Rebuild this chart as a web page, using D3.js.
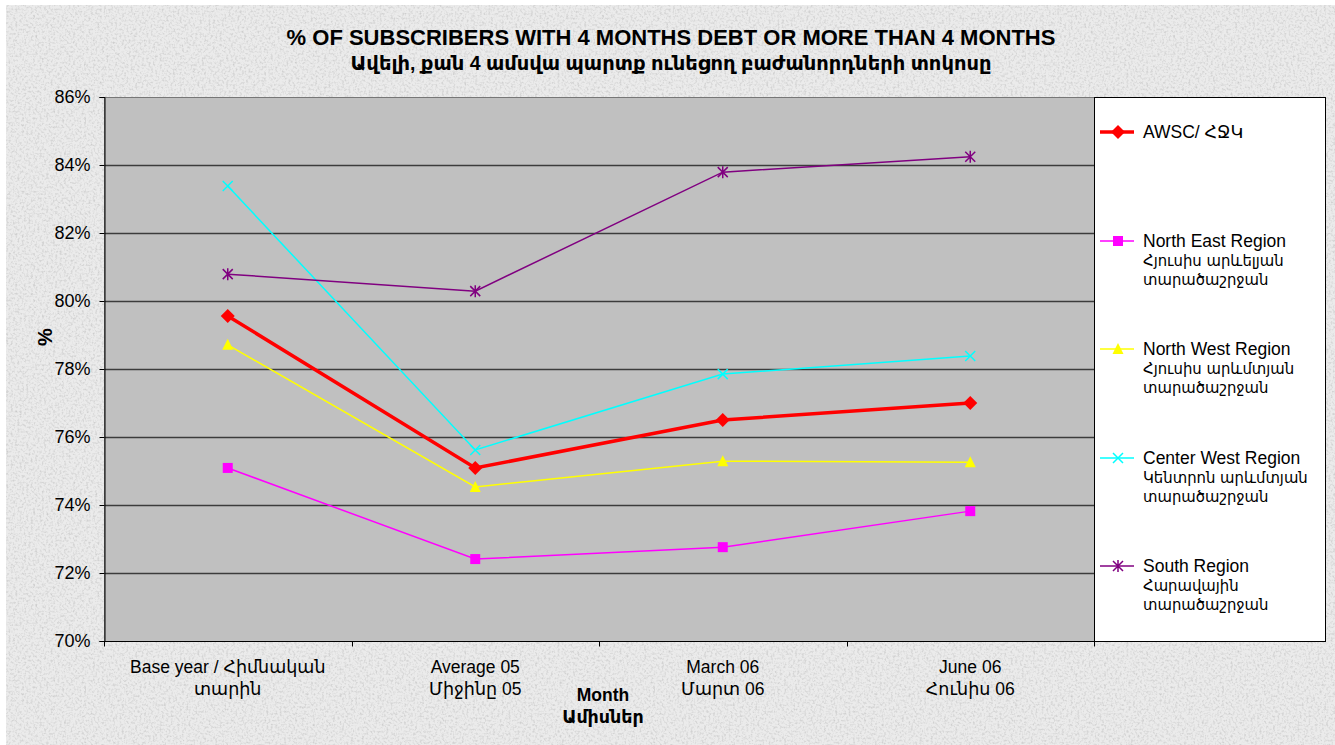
<!DOCTYPE html>
<html>
<head>
<meta charset="utf-8">
<script src="https://d3js.org/d3.v7.min.js"></script>
<style>
  body { margin: 0; background: #fff; }
  text { font-family: Arial, "Liberation Sans", "DejaVu Sans", sans-serif; }
</style>
</head>
<body>
<div id="chart"></div>
<script>
// Categories (two-line labels)
var categories = ["Base year / Հիմնական|տարին", "Average 05|Միջինը 05", "March 06|Մարտ 06", "June 06|Հունիս 06"];

// Series values (%)
var awsc       = [79.56, 75.09, 76.50, 77.00];
var northEast  = [75.09, 72.41, 72.76, 73.82];
var northWest  = [78.71, 74.53, 75.29, 75.26];
var centerWest = [83.38, 75.62, 77.85, 78.38];
var south      = [80.79, 80.29, 83.79, 84.24];

var yTicks = [70, 72, 74, 76, 78, 80, 82, 84, 86];

var seriesNames = [
  ["AWSC/ ՀՋԿ"],
  ["North East Region", "Հյուսիս արևելյան", "տարածաշրջան"],
  ["North West Region", "Հյուսիս արևմտյան", "տարածաշրջան"],
  ["Center West Region", "Կենտրոն արևմտյան", "տարածաշրջան"],
  ["South Region", "Հարավային", "տարածաշրջան"]
];

var series = [
  {name: seriesNames[0], values: awsc,       color: "#ff0000", width: 3.5, marker: "diamond"},
  {name: seriesNames[1], values: northEast,  color: "#ff00ff", width: 1.5, marker: "square"},
  {name: seriesNames[2], values: northWest,  color: "#ffff00", width: 1.5, marker: "triangle"},
  {name: seriesNames[3], values: centerWest, color: "#00ffff", width: 1.5, marker: "x"},
  {name: seriesNames[4], values: south,      color: "#800080", width: 1.5, marker: "star"}
];

var W = 1335, H = 745;
var plot = {left: 104, top: 97, right: 1094, bottom: 641};

var svg = d3.select("#chart").append("svg")
  .attr("width", W)
  .attr("height", H);

// granite-like background texture
var defs = svg.append("defs");
var f = defs.append("filter").attr("id", "granite")
  .attr("x", 0).attr("y", 0).attr("width", "100%").attr("height", "100%");
f.append("feTurbulence").attr("type", "fractalNoise").attr("baseFrequency", 0.45)
  .attr("numOctaves", 2).attr("seed", 3).attr("result", "noise");
f.append("feColorMatrix").attr("in", "noise").attr("type", "matrix")
  .attr("values", "0 0 0 0 0.55  0 0 0 0 0.55  0 0 0 0 0.55  -1.8 0 0 0 1.0")
  .attr("result", "spots");
f.append("feComposite").attr("in", "spots").attr("in2", "SourceGraphic").attr("operator", "atop");

svg.append("rect").attr("x", 6).attr("y", 5).attr("width", W - 6).attr("height", H - 5)
  .attr("fill", "#ebebeb");
svg.append("rect").attr("x", 6).attr("y", 5).attr("width", W - 6).attr("height", H - 5)
  .attr("fill", "#ebebeb").attr("filter", "url(#granite)");

// Scales
var x = d3.scaleBand()
  .domain(d3.range(categories.length))
  .range([plot.left, plot.right]);

var y = d3.scaleLinear()
  .domain([70, 86])
  .range([plot.bottom, plot.top]);

// Plot area
svg.append("rect")
  .attr("x", plot.left).attr("y", plot.top)
  .attr("width", plot.right - plot.left).attr("height", plot.bottom - plot.top)
  .attr("fill", "#c0c0c0");

// Gridlines
svg.append("g").selectAll("line")
  .data(yTicks.slice(1, -1))
  .enter().append("line")
  .attr("x1", plot.left).attr("x2", plot.right)
  .attr("y1", function(d) { return Math.round(y(d)) + 0.5; })
  .attr("y2", function(d) { return Math.round(y(d)) + 0.5; })
  .attr("stroke", "#3c3c3c").attr("stroke-width", 1.3);

svg.append("rect")
  .attr("x", plot.left + 0.5).attr("y", plot.top + 0.5)
  .attr("width", plot.right - plot.left).attr("height", plot.bottom - plot.top)
  .attr("fill", "none").attr("stroke", "#777").attr("stroke-width", 1);

// Y axis
var yAxis = svg.append("g")
  .attr("transform", "translate(" + (plot.left + 0.5) + ",0)")
  .call(d3.axisLeft(y).tickValues(yTicks).tickSize(5).tickPadding(9)
    .tickFormat(function(d) { return d + "%"; }));
yAxis.select(".domain").attr("stroke", "#000");
yAxis.selectAll(".tick line").attr("stroke", "#000");
yAxis.selectAll("text").attr("font-size", 18).attr("fill", "#000")
  .style("font-family", "Arial, 'Liberation Sans', sans-serif");

// X axis
var xAxis = svg.append("g")
  .attr("transform", "translate(0," + (plot.bottom + 0.5) + ")");
xAxis.append("line").attr("x1", plot.left).attr("x2", plot.right)
  .attr("stroke", "#000");
xAxis.selectAll(".xt")
  .data(d3.range(categories.length + 1))
  .enter().append("line")
  .attr("x1", function(i) { return Math.round(plot.left + i * x.bandwidth()) + 0.5; })
  .attr("x2", function(i) { return Math.round(plot.left + i * x.bandwidth()) + 0.5; })
  .attr("y1", 0).attr("y2", 5).attr("stroke", "#000");

var xl = xAxis.selectAll(".xl")
  .data(categories)
  .enter().append("text")
  .attr("text-anchor", "middle")
  .attr("font-size", 17.5)
  .attr("fill", "#000")
  .attr("transform", function(d, i) { return "translate(" + (x(i) + x.bandwidth() / 2) + ",31)"; });
xl.selectAll("tspan")
  .data(function(d) { return d.split("|"); })
  .enter().append("tspan")
  .attr("x", 0)
  .attr("dy", function(d, i) { return i ? 22 : 0; })
  .text(function(d) { return d; });

// Axis titles
svg.append("text").attr("x", 603).attr("y", 701).attr("text-anchor", "middle")
  .attr("font-size", 17.5).attr("font-weight", "bold").text("Month");
svg.append("text").attr("x", 603).attr("y", 723).attr("text-anchor", "middle")
  .attr("font-size", 17.5).attr("font-weight", "bold").text("Ամիսներ");
svg.append("text").attr("transform", "translate(52,337) rotate(-90)")
  .attr("text-anchor", "middle").attr("font-size", 20).attr("font-weight", "bold").text("%");

// Title
svg.append("text").attr("x", 671).attr("y", 45).attr("text-anchor", "middle")
  .attr("font-size", 22).attr("font-weight", "bold").text("% OF SUBSCRIBERS WITH 4 MONTHS DEBT OR MORE THAN 4 MONTHS");
svg.append("text").attr("x", 671).attr("y", 70).attr("text-anchor", "middle")
  .attr("font-size", 19.5).attr("font-weight", "bold").text("Ավելի, քան 4 ամսվա պարտք ունեցող բաժանորդների տոկոսը");

// Markers
function drawMarker(g, type, color) {
  if (type === "diamond") {
    g.append("path").attr("d", "M0,-7L7,0L0,7L-7,0Z").attr("fill", color);
  } else if (type === "square") {
    g.append("rect").attr("x", -5).attr("y", -5).attr("width", 10).attr("height", 10).attr("fill", color);
  } else if (type === "triangle") {
    g.append("path").attr("d", "M0,-6L5.5,5L-5.5,5Z").attr("fill", color);
  } else if (type === "x") {
    g.append("path").attr("d", "M-5,-5L5,5M-5,5L5,-5").attr("stroke", color).attr("stroke-width", 1.5);
  } else if (type === "star") {
    g.append("path").attr("d", "M-5,-5L5,5M-5,5L5,-5M0,-6L0,6").attr("stroke", color).attr("stroke-width", 1.5);
  }
}

var line = d3.line()
  .x(function(d, i) { return x(i) + x.bandwidth() / 2; })
  .y(function(d) { return y(d); });

var sg = svg.append("g").selectAll("g")
  .data(series)
  .enter().append("g");

sg.append("path")
  .attr("d", function(d) { return line(d.values); })
  .attr("fill", "none")
  .attr("stroke", function(d) { return d.color; })
  .attr("stroke-width", function(d) { return d.width; });

sg.each(function(s) {
  var g = d3.select(this);
  s.values.forEach(function(v, i) {
    var m = g.append("g").attr("transform", "translate(" + (x(i) + x.bandwidth() / 2) + "," + y(v) + ")");
    drawMarker(m, s.marker, s.color);
  });
});

// Legend
var lg = {left: 1094, top: 97, right: 1325, bottom: 641};
svg.append("rect")
  .attr("x", lg.left + 0.5).attr("y", lg.top + 0.5)
  .attr("width", lg.right - lg.left).attr("height", lg.bottom - lg.top)
  .attr("fill", "#fff").attr("stroke", "#000");

var legendY = [132, 241, 349, 458, 566];
var li = svg.append("g").selectAll("g")
  .data(series)
  .enter().append("g")
  .attr("transform", function(d, i) { return "translate(" + lg.left + "," + legendY[i] + ")"; });

li.append("line").attr("x1", 6).attr("x2", 40).attr("y1", 0).attr("y2", 0)
  .attr("stroke", function(d) { return d.color; })
  .attr("stroke-width", function(d) { return d.width; });
li.each(function(s) {
  var m = d3.select(this).append("g").attr("transform", "translate(24,0)");
  drawMarker(m, s.marker, s.color);
});
var lt = li.append("text").attr("x", 49).attr("y", 6).attr("font-size", 17.5).attr("fill", "#000");
lt.selectAll("tspan")
  .data(function(d) { return d.name; })
  .enter().append("tspan")
  .attr("x", 49)
  .attr("dy", function(d, i) { return i ? 19 : 0; })
  .style("font-family", function(d, i) { return i ? "'DejaVu Sans Condensed', 'DejaVu Sans', sans-serif" : null; })
  .attr("font-size", function(d, i) { return i ? 16.5 : null; })
  .text(function(d) { return d; });
</script>
</body>
</html>
